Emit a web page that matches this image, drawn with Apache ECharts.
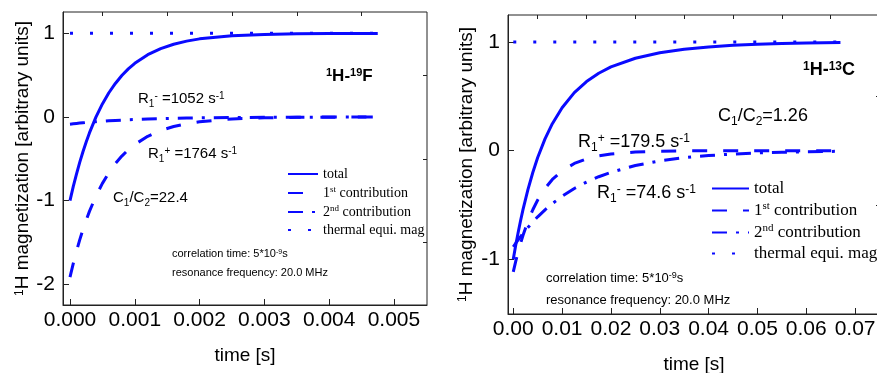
<!DOCTYPE html>
<html>
<head>
<meta charset="utf-8">
<script src="https://cdn.jsdelivr.net/npm/echarts@6/dist/echarts.min.js"></script>
<style>
  html, body { margin: 0; padding: 0; background: #fff; }
  #chart { width: 877px; height: 373px; }
</style>
</head>
<body>
<div id="chart"></div>
<script>
// 1H-19F panel, time in s
const timeF = [0, 0.00005, 0.0001, 0.00015, 0.0002, 0.00025, 0.0003, 0.0004, 0.0005, 0.0006, 0.0007, 0.0008, 0.0009, 0.001, 0.0012, 0.0014, 0.0016, 0.0018, 0.002, 0.0025, 0.003, 0.0035, 0.004, 0.00475];
const totalF = [-1.0, -0.832, -0.682, -0.542, -0.415, -0.298, -0.19, -0.002, 0.156, 0.29, 0.401, 0.496, 0.575, 0.642, 0.745, 0.818, 0.87, 0.907, 0.934, 0.971, 0.986, 0.994, 0.997, 0.999];
const firstF = [-1.915, -1.753, -1.605, -1.469, -1.346, -1.232, -1.128, -0.946, -0.793, -0.665, -0.557, -0.467, -0.391, -0.328, -0.231, -0.162, -0.114, -0.08, -0.056, -0.023, -0.01, -0.004, -0.002, 0];
const secondF = [-0.0855, -0.081, -0.077, -0.073, -0.069, -0.066, -0.062, -0.056, -0.051, -0.045, -0.041, -0.037, -0.033, -0.03, -0.024, -0.02, -0.016, -0.013, -0.01, -0.006, -0.004, -0.002, -0.001, -0.001];
const thermalTimeF = [0, 0.00475];
const thermalF = [1, 1];

// 1H-13C panel
const timeC = [0, 0.0005, 0.001, 0.0015, 0.002, 0.003, 0.004, 0.005, 0.0065, 0.008, 0.01, 0.0125, 0.015, 0.0175, 0.02, 0.025, 0.03, 0.035, 0.04, 0.045, 0.05, 0.055, 0.06, 0.067];
const totalC = [-1.0, -0.871, -0.753, -0.643, -0.541, -0.359, -0.201, -0.063, 0.108, 0.248, 0.395, 0.534, 0.636, 0.712, 0.77, 0.85, 0.901, 0.933, 0.954, 0.969, 0.979, 0.985, 0.99, 0.994];
const firstC = [-1.115, -1.019, -0.932, -0.852, -0.779, -0.651, -0.544, -0.454, -0.347, -0.265, -0.185, -0.118, -0.075, -0.048, -0.031, -0.013, -0.005, -0.002, -0.001, 0, 0, 0, 0, 0];
const secondC = [-0.885, -0.852, -0.821, -0.791, -0.762, -0.708, -0.657, -0.609, -0.545, -0.487, -0.42, -0.348, -0.289, -0.24, -0.199, -0.137, -0.094, -0.065, -0.045, -0.031, -0.021, -0.015, -0.01, -0.006];
const thermalTimeC = [0, 0.067];
const thermalC = [1, 1];

// ticks
const xTicksF = [0, 0.001, 0.002, 0.003, 0.004, 0.005];
const xMinorF = [0.0005, 0.0015, 0.0025, 0.0035, 0.0045];
const yTicksF = [-2, -1, 0, 1];
const yMinorF = [-1.5, -0.5, 0.5];
const xTicksC = [0, 0.01, 0.02, 0.03, 0.04, 0.05, 0.06, 0.07];
const xMinorC = [0.005, 0.015, 0.025, 0.035, 0.045, 0.055, 0.065];
const yTicksC = [-1, 0, 1];
const yMinorC = [-0.5, 0.5];

const names = ['total', '1st contribution', '2nd contribution', 'thermal equi. mag'];

const BLUE = '#0a0aff';
const AXIS = '#222';
const SANS = 'Liberation Sans, Arial, sans-serif';
const SERIF = 'Liberation Serif, Times New Roman, serif';

const pair = (xs, ys) => xs.map((x, i) => [x, ys[i]]);

function richFor(size, bold) {
  const w = bold ? 'bold' : 'normal';
  const s = Math.round(size * 0.66);
  return {
    n: { fontSize: size, fontFamily: SANS, fontWeight: w, color: '#000' },
    sub: { fontSize: s, fontFamily: SANS, fontWeight: w, color: '#000', verticalAlign: 'bottom', padding: [0, 0, -3, 0] },
    sup: { fontSize: s, fontFamily: SANS, fontWeight: w, color: '#000', verticalAlign: 'top' }
  };
}

function note(x, y, text, size, bold) {
  return {
    type: 'text', x: x, y: y, silent: true,
    style: { text: text, rich: richFor(size, bold), fontSize: size, fontFamily: SANS, fill: '#000', verticalAlign: 'middle', align: 'left' }
  };
}

function lineSeries(name, xi, data, lineType, width) {
  return {
    name: name, type: 'line', xAxisIndex: xi, yAxisIndex: xi, data: data,
    symbol: 'none', showSymbol: false, silent: true,
    lineStyle: { color: BLUE, width: width || 3, type: lineType, cap: 'butt', join: 'round' },
    itemStyle: { color: BLUE }
  };
}

function mainX(grid, min, max, ticks, digits, gap) {
  return {
    type: 'value', gridIndex: grid, min: min, max: max,
    axisLine: { show: true, onZero: false, lineStyle: { color: AXIS, width: 1 } },
    axisTick: { show: true, inside: true, length: 6, customValues: ticks, lineStyle: { color: AXIS } },
    axisLabel: { customValues: ticks, formatter: v => v.toFixed(digits), fontSize: 21, fontFamily: SANS, color: '#000', margin: 5 },
    splitLine: { show: false },
    name: 'time [s]', nameLocation: 'middle', nameGap: gap,
    nameTextStyle: { fontSize: 19, fontFamily: SANS, color: '#000' }
  };
}
function minorAxis(grid, min, max, ticks) {
  return {
    type: 'value', gridIndex: grid, min: min, max: max,
    axisLine: { show: false, onZero: false },
    axisTick: { show: true, inside: true, length: 4, customValues: ticks, lineStyle: { color: AXIS } },
    axisLabel: { show: false }, splitLine: { show: false }
  };
}
function mainY(grid, min, max, ticks, gap) {
  return {
    type: 'value', gridIndex: grid, min: min, max: max,
    axisLine: { show: true, onZero: false, lineStyle: { color: AXIS, width: 1 } },
    axisTick: { show: true, inside: true, length: 6, customValues: ticks, lineStyle: { color: AXIS } },
    axisLabel: { customValues: ticks, formatter: v => String(v), fontSize: 21, fontFamily: SANS, color: '#000', margin: 8 },
    splitLine: { show: false },
    name: '{s|1}{n|H magnetization [arbitrary units]}', nameLocation: 'middle', nameGap: gap,
    nameTextStyle: {
      fontSize: 19, fontFamily: SANS, color: '#000',
      rich: {
        n: { fontSize: 19, fontFamily: SANS, color: '#000' },
        s: { fontSize: 12, fontFamily: SANS, color: '#000', verticalAlign: 'top' }
      }
    }
  };
}

function legendFor(left, top, size, iw, gap) {
  const small = Math.round(size * 0.62);
  return {
    orient: 'vertical', left: left, top: top, padding: 0, itemWidth: iw, itemHeight: 12, itemGap: gap,
    selectedMode: false, data: names,
    itemStyle: { opacity: 0, borderWidth: 0 },
    formatter: n => {
      if (n === '1st contribution') return '{t|1}{s|st}{t| contribution}';
      if (n === '2nd contribution') return '{t|2}{s|nd}{t| contribution}';
      return '{t|' + n + '}';
    },
    textStyle: {
      fontFamily: SERIF, fontSize: size, color: '#000',
      rich: {
        t: { fontFamily: SERIF, fontSize: size, lineHeight: size + 2, color: '#000' },
        s: { fontFamily: SERIF, fontSize: small, color: '#000', verticalAlign: 'top' }
      }
    }
  };
}

const chart = echarts.init(document.getElementById('chart'), null, { renderer: 'canvas' });

const xminF = -0.000108, xmaxF = 0.00551, yminF = -2.247, ymaxF = 1.255;
const xminC = -0.00108, xmaxC = 0.0751, yminC = -1.503, ymaxC = 1.248;

chart.setOption({
  animation: false,
  backgroundColor: '#fff',
  grid: [
    { left: 63, top: 12, width: 364, height: 293, show: true, borderColor: AXIS, borderWidth: 1, backgroundColor: 'transparent', containLabel: false, outerBoundsMode: 'none' },
    { left: 508, top: 15, width: 372, height: 299, show: true, borderColor: AXIS, borderWidth: 1, backgroundColor: 'transparent', containLabel: false, outerBoundsMode: 'none' }
  ],
  xAxis: [
    mainX(0, xminF, xmaxF, xTicksF, 3, 41),
    mainX(1, xminC, xmaxC, xTicksC, 2, 41),
    minorAxis(0, xminF, xmaxF, xMinorF),
    minorAxis(1, xminC, xmaxC, xMinorC)
  ],
  yAxis: [
    mainY(0, yminF, ymaxF, yTicksF, 26),
    mainY(1, yminC, ymaxC, yTicksC, 32),
    minorAxis(0, yminF, ymaxF, yMinorF),
    minorAxis(1, yminC, ymaxC, yMinorC)
  ],
  legend: [
    legendFor(287, 167, 14, 30, 4),
    legendFor(711, 180, 17, 37, 4)
  ],
  series: [
    lineSeries('total', 0, pair(timeF, totalF), 'solid', 3),
    lineSeries('1st contribution', 0, pair(timeF, firstF), [15, 16], 3),
    lineSeries('2nd contribution', 0, pair(timeF, secondF), [15, 9, 3, 9], 3),
    lineSeries('thermal equi. mag', 0, pair(thermalTimeF, thermalF), [3, 17], 3),
    lineSeries('total', 1, pair(timeC, totalC), 'solid', 3),
    lineSeries('1st contribution', 1, pair(timeC, firstC), [15, 16], 3),
    lineSeries('2nd contribution', 1, pair(timeC, secondC), [15, 9, 3, 9], 3),
    lineSeries('thermal equi. mag', 1, pair(thermalTimeC, thermalC), [3, 17], 3)
  ],
  graphic: [
    note(326, 76, '{sup|1}{n|H-}{sup|19}{n|F}', 17, true),
    note(138, 99, '{n|R}{sub|1}{sup|-}{n| =1052 s}{sup|-1}', 15),
    note(148, 154, '{n|R}{sub|1}{sup|+}{n| =1764 s}{sup|-1}', 15),
    note(113, 198, '{n|C}{sub|1}{n|/C}{sub|2}{n|=22.4}', 15),
    note(172, 254, '{n|correlation time: 5*10}{sup|-9}{n|s}', 11),
    note(172, 273, '{n|resonance frequency: 20.0 MHz}', 11),
    note(803, 70, '{sup|1}{n|H-}{sup|13}{n|C}', 18, true),
    note(718, 116, '{n|C}{sub|1}{n|/C}{sub|2}{n|=1.26}', 18),
    note(578, 142, '{n|R}{sub|1}{sup|+}{n| =179.5 s}{sup|-1}', 18),
    note(597, 193, '{n|R}{sub|1}{sup|-}{n| =74.6 s}{sup|-1}', 18),
    note(546, 278, '{n|correlation time: 5*10}{sup|-9}{n|s}', 13),
    note(546, 300, '{n|resonance frequency: 20.0 MHz}', 13)
  ]
});
</script>
</body>
</html>
